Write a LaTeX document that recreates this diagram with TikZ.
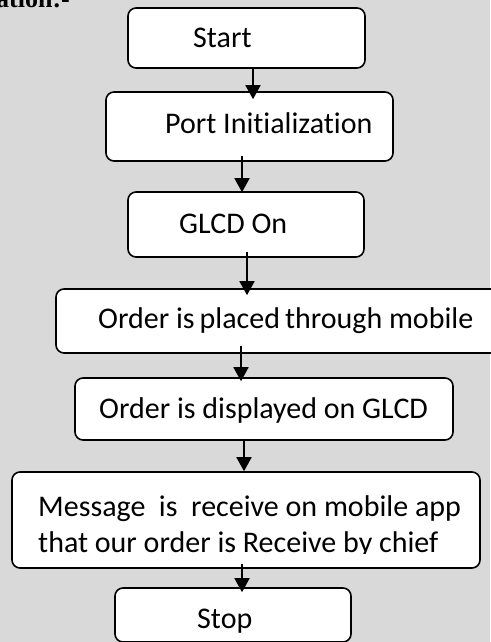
\documentclass[tikz,border=0pt]{standalone}
\usepackage{fontspec}
\setmainfont{Carlito}[Ligatures={NoCommon}]
\newfontfamily\headfont{Liberation Serif}
\usetikzlibrary{arrows.meta}
\definecolor{bggray}{HTML}{D9D9D9}
\tikzset{
  box/.style={draw=black, fill=white, line width=1.6pt, rounded corners=8pt, inner sep=0pt},
  txt/.style={inner sep=0pt, anchor=base west, font=\fontsize{30}{36}\selectfont},
  arr/.style={line width=1.8pt, -{Triangle[width=15pt,length=14pt]}},
}
\begin{document}
\begin{tikzpicture}[x=1pt,y=-1pt]
\useasboundingbox (0,0) rectangle (490,642);
\fill[bggray] (0,0) rectangle (490,642);
% heading fragment
\node[inner sep=0pt, anchor=base west, font=\headfont\bfseries\fontsize{26}{30}\selectfont] (head) at (-4,8) {ation:-};
% boxes
\node[box, minimum width=237pt, minimum height=60pt] (start) at (246.5,38) {};
\node[box, minimum width=287pt, minimum height=69pt] (port) at (249.5,126.5) {};
\node[box, minimum width=236pt, minimum height=65pt] (glcd) at (246,224.5) {};
\node[box, minimum width=450pt, minimum height=64pt] (placed) at (281,321) {};
\node[box, minimum width=378pt, minimum height=62pt] (disp) at (264,409) {};
\node[box, minimum width=468pt, minimum height=96pt] (msg) at (246,520) {};
\node[box, minimum width=236pt, minimum height=54pt] (stop) at (233,615) {};
% texts
\node[txt] (tstart) at (193,48) {Start};
\node[txt] (tport) at (165,133) {Port Initialization};
\node[txt] (tglcd) at (179,233) {GLCD On};
\node[txt] (tplaced) at (98,328) {Order is\,placed\,through mobile};
\node[txt] (tdisp) at (99,418) {Order is displayed on GLCD};
\node[txt] (tmsg1) at (38,516) {Message~ is~ receive on mobile app};
\begin{scope}
\clip (0,530) rectangle (490,553);
\node[txt] (tmsg2) at (38,552) {that our order is Receive by chief};
\end{scope}
\node[txt] (tstop) at (197,628) {Stop};
% arrows
\draw[arr] (start.south -| 253,0) -- ([yshift=-8pt]port.north -| 253,0);
\draw[arr] ([yshift=6pt]port.south -| 242,0) -- ([yshift=-1pt]glcd.north -| 242,0);
\draw[arr] ([yshift=6pt]glcd.south -| 247,0) -- ([yshift=-7pt]placed.north -| 247,0);
\draw[arr] ([yshift=8pt]placed.south -| 241,0) -- ([yshift=-4pt]disp.north -| 241,0);
\draw[arr] ([yshift=2pt]disp.south -| 244,0) -- (msg.north -| 244,0);
\draw[arr] ([yshift=5pt]msg.south -| 242,0) -- ([yshift=-5pt]stop.north -| 242,0);
\end{tikzpicture}
\end{document}
